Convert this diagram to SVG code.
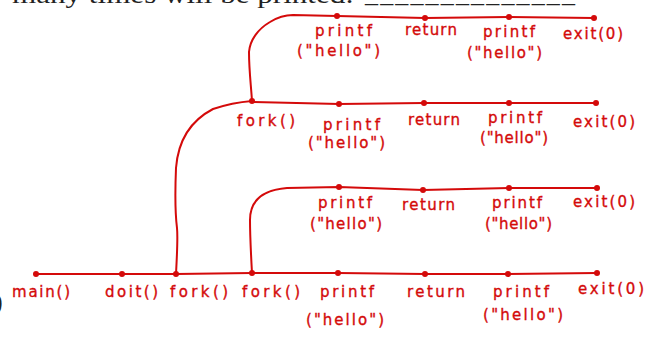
<svg xmlns="http://www.w3.org/2000/svg" width="649" height="339" viewBox="0 0 649 339">
<style>
.bg{fill:#ffffff}
.hdr{font-family:"Liberation Serif",serif;font-size:26px;fill:#222}
.ln{fill:none;stroke:#d40a0a;stroke-width:2;stroke-linecap:round;stroke-linejoin:round}
.dot{fill:#d40a0a}
.lb{font-family:"DejaVu Sans",sans-serif;font-size:15px;fill:#d40a0a;stroke:#d40a0a;stroke-width:0.35}
</style>
<rect class="bg" x="0" y="0" width="649" height="339"/>
<text class="hdr" x="12" y="2.5" textLength="342" lengthAdjust="spacingAndGlyphs">many times will be printed:</text>
<text class="hdr" x="365" y="1.5" textLength="210" lengthAdjust="spacing">______________</text>
<text class="hdr" x="-6" y="310">)</text>

<g id="connectors">
<path class="ln" d="M36,274 L122,274 L176,274 L252,273 L338,273 L425,274 L508,274 L597,273"/>
<path class="ln" d="M176,274 C177,255 178,238 177,228 C175,212 175,192 176,168 C178,142 190,121 213,109 C228,104 240,102 252,101"/>
<path class="ln" d="M252,102 L339,104 L424,103 L509,103 L596,103"/>
<path class="ln" d="M252,273 C251,255 250,236 250,220 C250,201 262,190 287,188 L339,187 L423,190 L509,188 L597,188"/>
<path class="ln" d="M252,101 C251,85 249,70 249,52 C250,40 258,29 270,22 C278,17 285,15 293,15 L337,16 L425,18 L509,17 L594,18"/>
</g>

<g id="n-main"><circle class="dot" cx="36" cy="274" r="3"/><text class="lb" x="12" y="297" textLength="58">main()</text></g>
<g id="n-doit"><circle class="dot" cx="122" cy="274" r="3"/><text class="lb" x="105" y="297" textLength="53">doit()</text></g>
<g id="n-fork1"><circle class="dot" cx="176" cy="274" r="3"/><text class="lb" x="170" y="297" textLength="58">fork()</text></g>
<g id="n-fork2"><circle class="dot" cx="252" cy="273" r="3"/><text class="lb" x="242" y="297" textLength="58">fork()</text></g>
<g id="n-a-printf1"><circle class="dot" cx="338" cy="273" r="3"/><text class="lb" x="320" y="297" textLength="54">printf</text><text class="lb" x="306" y="325" textLength="78">("hello")</text></g>
<g id="n-a-return"><circle class="dot" cx="425" cy="274" r="3"/><text class="lb" x="407" y="297" textLength="58">return</text></g>
<g id="n-a-printf2"><circle class="dot" cx="508" cy="274" r="3"/><text class="lb" x="493" y="297" textLength="56">printf</text><text class="lb" x="483" y="320" textLength="80">("hello")</text></g>
<g id="n-a-exit"><circle class="dot" cx="597" cy="273" r="3"/><text class="lb" x="578" y="294" textLength="66">exit(0)</text></g>

<g id="n-b-printf1"><circle class="dot" cx="339" cy="187" r="3"/><text class="lb" x="318" y="208" textLength="54">printf</text><text class="lb" x="310" y="229" textLength="72">("hello")</text></g>
<g id="n-b-return"><circle class="dot" cx="423" cy="190" r="3"/><text class="lb" x="402" y="210" textLength="53">return</text></g>
<g id="n-b-printf2"><circle class="dot" cx="509" cy="188" r="3"/><text class="lb" x="492" y="208" textLength="50">printf</text><text class="lb" x="485" y="229" textLength="67">("hello")</text></g>
<g id="n-b-exit"><circle class="dot" cx="597" cy="188" r="3"/><text class="lb" x="573" y="207" textLength="62">exit(0)</text></g>

<g id="n-c-fork"><circle class="dot" cx="252" cy="101" r="3"/><text class="lb" x="237" y="126" textLength="58">fork()</text></g>
<g id="n-c-printf1"><circle class="dot" cx="339" cy="104" r="3"/><text class="lb" x="323" y="130" textLength="57">printf</text><text class="lb" x="308" y="148" textLength="77">("hello")</text></g>
<g id="n-c-return"><circle class="dot" cx="424" cy="103" r="3"/><text class="lb" x="408" y="125" textLength="52">return</text></g>
<g id="n-c-printf2"><circle class="dot" cx="509" cy="103" r="3"/><text class="lb" x="488" y="123" textLength="54">printf</text><text class="lb" x="480" y="143" textLength="68">("hello")</text></g>
<g id="n-c-exit"><circle class="dot" cx="596" cy="103" r="3"/><text class="lb" x="573" y="127" textLength="62">exit(0)</text></g>

<g id="n-d-printf1"><circle class="dot" cx="337" cy="16" r="3"/><text class="lb" x="315" y="36" textLength="57">printf</text><text class="lb" x="297" y="56" textLength="83">("hello")</text></g>
<g id="n-d-return"><circle class="dot" cx="425" cy="18" r="3"/><text class="lb" x="405" y="35" textLength="52">return</text></g>
<g id="n-d-printf2"><circle class="dot" cx="509" cy="17" r="3"/><text class="lb" x="483" y="37" textLength="52">printf</text><text class="lb" x="467" y="58" textLength="75">("hello")</text></g>
<g id="n-d-exit"><circle class="dot" cx="594" cy="18" r="3"/><text class="lb" x="563" y="39" textLength="60">exit(0)</text></g>
</svg>
